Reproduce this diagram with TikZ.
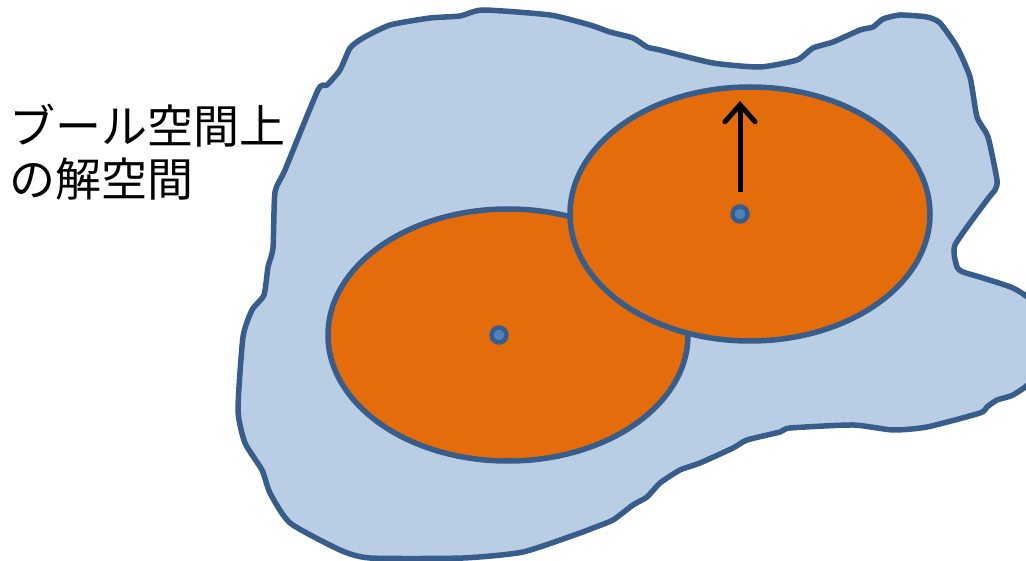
\documentclass[tikz,border=0pt]{standalone}
\usepackage{fontspec}
\newfontfamily\jpfont{Noto Sans CJK JP}
\usetikzlibrary{arrows.meta}
\definecolor{blobfill}{HTML}{B9CDE5}
\definecolor{edgeblue}{HTML}{385D8A}
\definecolor{orangefill}{HTML}{E46C0A}
\definecolor{dotfill}{HTML}{4F81BD}
\tikzset{
  blob/.style={fill=blobfill, draw=edgeblue, line width=5.5pt, line join=round},
  region/.style={fill=orangefill, draw=edgeblue, line width=5.5pt},
  centerdot/.style={circle, fill=dotfill, draw=edgeblue, line width=4.5pt, minimum size=15pt, inner sep=0pt},
  moveArrow/.style={line width=5pt, -{Straight Barb[length=17pt,width=30pt,line cap=round]}},
  label/.style={font=\jpfont\fontsize{46pt}{53pt}\selectfont, align=left, inner sep=0pt, anchor=north west}
}
\begin{document}
\begin{tikzpicture}[x=1pt,y=-1pt]
\useasboundingbox (0,0) rectangle (1026,561);
\begin{scope}
\clip (0,0) rectangle (1026,561);
\draw[blob] plot[smooth cycle, tension=0.35] coordinates {
(318,90) (327,85) (340,70) (350,48) (363,38) (390,25) (430,18) (460,16) (483,10) (550,15) (590,25) (610,32) (633,38) (647,47) (660,50) (713,63) (760,67) (797,60) (813,48) (833,42) (860,30) (873,27) (883,19) (900,15) (927,17) (940,23) (957,47) (970,77) (977,117) (988,137) (997,180) (995,190) (987,200) (955,245) (957,267) (963,272) (983,278) (1013,288) (1032,302) (1042,340) (1032,380) (1013,395) (997,400) (987,407) (980,413) (927,427) (893,430) (853,425) (790,428) (780,432) (747,440) (733,448) (700,463) (680,470) (660,483) (647,497) (633,505) (613,520) (593,528) (580,533) (523,552) (463,558) (370,558) (340,550) (290,523) (270,493) (262,470) (245,443) (238,410) (243,337) (252,310) (264,295) (268,267) (273,248) (275,192) (285,170)
};
\end{scope}
\draw[region] (508,335) ellipse [x radius=180pt, y radius=126pt];
\node[centerdot] (dotA) at (499,335) {};
\draw[region] (750,214) ellipse [x radius=180pt, y radius=127pt];
\node[centerdot] (dotB) at (740,214) {};
\coordinate (arrowStart) at (740,192);
\coordinate (arrowEnd) at (740,101);
\draw[moveArrow] (arrowStart) -- (arrowEnd);
\node[label] (title) at (9,104) {ブール空間上\\の解空間};
\end{tikzpicture}
\end{document}
